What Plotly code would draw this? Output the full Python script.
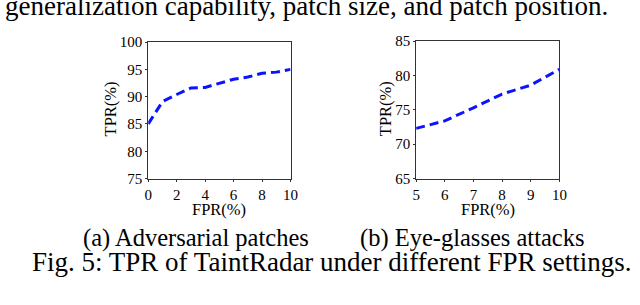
import plotly.graph_objects as go

# Data
fpr_a = [0, 1, 2, 3, 4, 5, 6, 7, 8, 9, 10]
tpr_a = [85.0, 89.1, 90.4, 91.6, 91.7, 92.5, 93.2, 93.6, 94.3, 94.5, 95.0]
fpr_b = [5, 6, 7, 8, 9, 10]
tpr_b = [72.3, 73.4, 75.3, 77.3, 78.6, 80.9]

xticks_a = [0, 2, 4, 6, 8, 10]
yticks_a = [75, 80, 85, 90, 95, 100]
xticks_b = [5, 6, 7, 8, 9, 10]
yticks_b = [65, 70, 75, 80, 85]

W, H = 640, 305
FONT = "Liberation Serif"

def px(x):
    return x / W

def py(y):
    return 1 - y / H

fig = go.Figure()
line_style = dict(color="#0a14ff", width=3, dash="9px,5px")
fig.add_trace(go.Scatter(x=fpr_a, y=tpr_a, mode="lines", line=line_style,
                         xaxis="x", yaxis="y", showlegend=False))
fig.add_trace(go.Scatter(x=fpr_b, y=tpr_b, mode="lines", line=line_style,
                         xaxis="x2", yaxis="y2", showlegend=False))

ax_common = dict(showline=True, mirror=True, linecolor="#333", linewidth=1,
                 showgrid=False, zeroline=False, ticks="outside", ticklen=2,
                 tickcolor="#333", tickfont=dict(family=FONT, size=15, color="black"))

fig.update_layout(
    width=W, height=H,
    margin=dict(l=0, r=0, t=0, b=0),
    paper_bgcolor="white", plot_bgcolor="white",
    xaxis=dict(domain=[px(147), px(292)], range=[0, 10], tickvals=xticks_a,
               anchor="y", **ax_common),
    yaxis=dict(domain=[py(180), py(36)], range=[75, 100], tickvals=yticks_a,
               anchor="x", **ax_common),
    xaxis2=dict(domain=[px(420), px(566)], range=[5, 10], tickvals=xticks_b,
                anchor="y2", **ax_common),
    yaxis2=dict(domain=[py(180), py(35)], range=[65, 85], tickvals=yticks_b,
                anchor="x2", **ax_common),
)

def note(text, x, y, size, anchor="center", angle=0):
    fig.add_annotation(text=text, x=px(x), y=py(y), xref="paper", yref="paper",
                       showarrow=False, xanchor=anchor, yanchor="middle",
                       borderpad=0, textangle=angle,
                       font=dict(family=FONT, size=size, color="black"))

# axis titles
note("FPR(%)", 219, 213, 16.5)
note("FPR(%)", 493, 213, 16.5)
note("TPR(%)", 108, 106, 16.5, angle=-90)
note("TPR(%)", 389, 106, 16.5, angle=-90)

# surrounding text
note("generalization capability, patch size, and patch position.", 0, -2, 27, "left")
note("(a) Adversarial patches", 196, 243, 24.5)
note("(b) Eye-glasses attacks", 477, 243, 24.5)
note("Fig. 5: TPR of TaintRadar under different FPR settings.", 334, 268, 27)
note("<b>E.   Recognition   Ability.</b>   In this experiment, we evaluate the", 0, 324, 24, "left")

fig.write_html("out.html", post_script="document.body.style.margin='0';",
               config={"displayModeBar": False})
